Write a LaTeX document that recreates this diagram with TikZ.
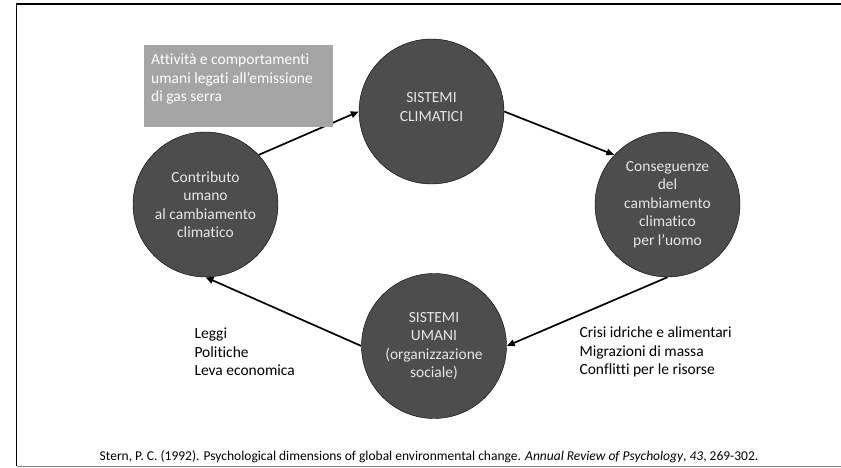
\documentclass[tikz,border=0pt]{standalone}
\usepackage{fontspec}
\setmainfont[Ligatures=CommonOff]{Carlito}
\usetikzlibrary{arrows.meta}
\usetikzlibrary{positioning}
\usepackage{xcolor}

\definecolor{cerchio}{HTML}{4D4D4D}
\definecolor{riquadro}{HTML}{A5A5A5}
\definecolor{testochiaro}{HTML}{E6E6E6}

\tikzset{
	sistema/.style={circle, draw=black, fill=cerchio, minimum size=145pt, inner sep=0pt,
		text=testochiaro, align=center, font=\fontsize{15.5}{18.5}\selectfont},
	freccia/.style={-{Triangle[length=8pt,width=6.5pt]}, line width=1.7pt},
	elenco/.style={anchor=west, align=left, font=\fontsize{15.5}{18.5}\selectfont}
}

\begin{document}
\begin{tikzpicture}[x=1pt, y=-1pt]
			\useasboundingbox (0,0) rectangle (841,468);
			
			% cornice
			\draw[line width=1.5pt] (841,4) -- (16.5,4) -- (16.5,466);
			\draw[gray, line width=1pt] (16.5,466) -- (841,466);
			
			\node[sistema, text depth=9pt] (clim) at (431.5,111.5) {SISTEMI\\CLIMATICI};
			\node[sistema] (contr) at (205.5,204.5) {Contributo\\umano\\al cambiamento\\climatico};
			\node[sistema] (cons) at (667.5,204.5) {Conseguenze\\del\\cambiamento\\climatico\\per l’uomo};
			\node[sistema] (uman) at (434,346) {SISTEMI\\UMANI\\(organizzazione\\sociale)};
			
			\draw[freccia] (contr.43) -- (clim.west);
			\draw[freccia] (clim.east) -- (cons.137);
			\draw[freccia] (cons.south) -- (uman.east);
			\draw[freccia] (uman.west) -- (contr.south);
			
			\node[fill=riquadro, anchor=north west, minimum width=189pt, minimum height=82pt, inner sep=0pt] (attivita) at (144,45) {};
			\node[elenco, anchor=north west, text=white, inner sep=0pt] (attivitatesto) at (151,54) {Attività e comportamenti\\umani legati all’emissione\\di gas serra};
			
			\node[elenco] (leggi) at (191,352) {Leggi\\Politiche\\Leva economica};
			\node[elenco] (crisi) at (576,352) {Crisi idriche e alimentari\\Migrazioni di massa\\Conflitti per le risorse};
			
			\node[font=\fontsize{13.5}{15}\selectfont] (fonte) at (429,457) {Stern, P. C. (1992). Psychological dimensions of global environmental change. \textit{Annual Review of Psychology}, \textit{43}, 269-302.};
			
		\end{tikzpicture}
\end{document}
